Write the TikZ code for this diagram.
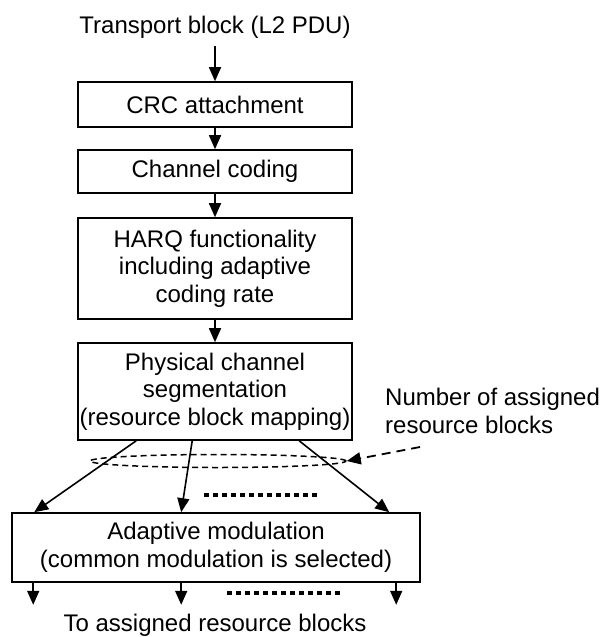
\documentclass[tikz,border=0pt]{standalone}
\usepackage{fontspec}
\setmainfont{Liberation Sans}
\usetikzlibrary{arrows.meta,positioning}
\usetikzlibrary{calc}
\usetikzlibrary{shapes.geometric}

\begin{document}
\begin{tikzpicture}[x=1pt,y=-1pt,
        font=\fontsize{24}{27.5}\selectfont,
        blockbox/.style={draw, line width=1.6pt, align=center, minimum width=274pt, inner sep=0pt},
        arr/.style={line width=1.6pt, -{Triangle[length=14pt,width=12pt]}},
        dotline/.style={line width=4pt, dash pattern=on 5pt off 4pt}]

        \useasboundingbox (0,0) rectangle (603,637);

        % Define processing chain
        \node[anchor=base, inner sep=2pt] (tb) at (215,33) {Transport block (L2 PDU)};
        \node[blockbox, minimum height=45pt] (crc) at (215,104.5) {CRC attachment};
        \node[blockbox, minimum height=43pt] (coding) at (215,171.5) {Channel coding};
        \node[blockbox, minimum height=101pt] (harq) at (215,268.5) {HARQ functionality\\including adaptive\\coding rate};
        \node[blockbox, minimum height=97pt] (seg) at (215,391.5) {Physical channel\\segmentation\\(resource block mapping)};
        \node[blockbox, minimum width=408pt, minimum height=69pt] (mod) at (216,547.5) {Adaptive modulation\\(common modulation is selected)};

        \draw[arr, shorten <=6pt] (tb.south) -- (crc.north);
        \draw[arr] (crc.south) -- (coding.north);
        \draw[arr] (coding.south) -- (harq.north);
        \draw[arr] (harq.south) -- (seg.north);

        % Resource blocks
        \node[draw, line width=1.5pt, dash pattern=on 6pt off 4pt, ellipse, inner sep=0pt,
              minimum width=256pt, minimum height=13pt] (grp) at (218,461) {};
        \draw[arr] ([xshift=59pt]seg.south west) -- ([xshift=23pt]mod.north west);
        \draw[arr] ([xshift=115pt]seg.south west) -- ([xshift=170pt]mod.north west);
        \draw[arr] ([xshift=222pt]seg.south west) -- ([xshift=378pt]mod.north west);
        \draw[dotline] (204,495) -- (318,495);

        \node[anchor=north west, align=left, inner sep=0pt] (nrb) at (385,388) {Number of assigned\\resource blocks};
        \coordinate (nrbtail) at (420,447);
        \draw[line width=1.8pt, dash pattern=on 9pt off 6pt, -{Triangle[length=14pt,width=12pt]}] (nrbtail) -- (grp.east);

        % Outputs
        \draw[arr] ([xshift=22pt]mod.south west) -- ++(0,22);
        \draw[arr] ([xshift=170pt]mod.south west) -- ++(0,22);
        \draw[arr] ([xshift=385pt]mod.south west) -- ++(0,22);
        \draw[dotline] (227,593) -- (340,593);
        \node[anchor=base] (out) at (215,631) {To assigned resource blocks};
    \end{tikzpicture}
\end{document}
